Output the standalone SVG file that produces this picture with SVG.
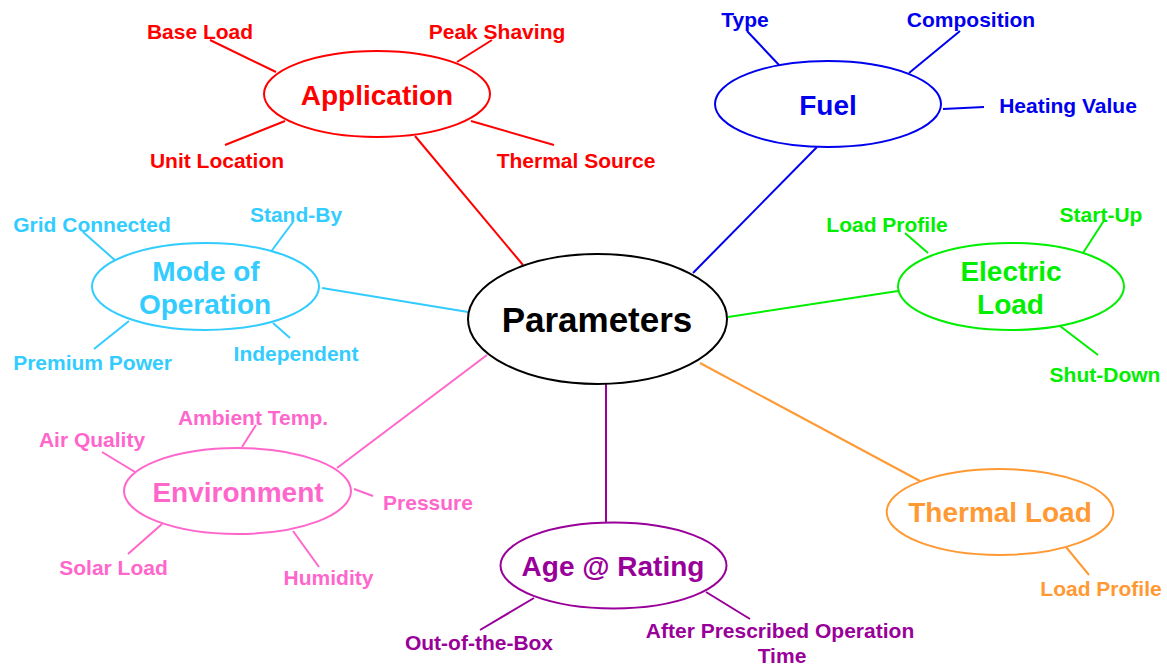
<svg xmlns="http://www.w3.org/2000/svg" width="1167" height="667" viewBox="0 0 1167 667">
  <style>
    text { font-family: "Liberation Sans", Arial, Helvetica, sans-serif; font-weight: bold; text-anchor: middle; }
    .hub { font-size: 35px; fill: #000; }
    .node { font-size: 28px; }
    .leaf { font-size: 21px; }
    ellipse { fill: #fff; stroke-width: 2; }
    line { stroke-width: 2; }
    .red { fill: #ff0000; } .red-s { stroke: #ff0000; }
    .blue { fill: #0000ee; } .blue-s { stroke: #0000ee; }
    .cyan { fill: #33ccff; } .cyan-s { stroke: #33ccff; }
    .green { fill: #00ee00; } .green-s { stroke: #00ee00; }
    .pink { fill: #ff66cc; } .pink-s { stroke: #ff66cc; }
    .purple { fill: #990099; } .purple-s { stroke: #990099; }
    .orange { fill: #ff9933; } .orange-s { stroke: #ff9933; }
  </style>
  <rect width="1167" height="667" fill="#fff"/>

  <!-- spokes from the hub to each category, plus the leaf ticks -->
  <g id="connectors">
    <line class="red-s" x1="415" y1="136" x2="523" y2="265"/>
    <line class="blue-s" x1="817" y1="147" x2="693" y2="273"/>
    <line class="cyan-s" x1="322" y1="288" x2="468" y2="312"/>
    <line class="green-s" x1="728" y1="317" x2="898" y2="291"/>
    <line class="pink-s" x1="337" y1="468" x2="487" y2="355"/>
    <line class="purple-s" x1="606" y1="384" x2="606" y2="522"/>
    <line class="orange-s" x1="700" y1="363" x2="920" y2="481"/>

    <line class="red-s" x1="210" y1="40" x2="276" y2="72"/>
    <line class="red-s" x1="492" y1="40" x2="457" y2="62"/>
    <line class="red-s" x1="285" y1="121" x2="225" y2="145"/>
    <line class="red-s" x1="471" y1="121" x2="554" y2="145"/>

    <line class="blue-s" x1="747" y1="31" x2="779" y2="65"/>
    <line class="blue-s" x1="960" y1="31" x2="909" y2="73"/>
    <line class="blue-s" x1="943" y1="109" x2="984" y2="107"/>

    <line class="cyan-s" x1="83" y1="232" x2="117" y2="262"/>
    <line class="cyan-s" x1="293" y1="222" x2="270" y2="253"/>
    <line class="cyan-s" x1="129" y1="321" x2="94" y2="349"/>
    <line class="cyan-s" x1="273" y1="323" x2="290" y2="338"/>

    <line class="green-s" x1="905" y1="233" x2="928" y2="253"/>
    <line class="green-s" x1="1105" y1="219" x2="1083" y2="253"/>
    <line class="green-s" x1="1060" y1="326" x2="1098" y2="355"/>

    <line class="pink-s" x1="102" y1="452" x2="135" y2="472"/>
    <line class="pink-s" x1="256" y1="425" x2="242" y2="447"/>
    <line class="pink-s" x1="354" y1="489" x2="373" y2="496"/>
    <line class="pink-s" x1="162" y1="524" x2="128" y2="554"/>
    <line class="pink-s" x1="293" y1="531" x2="319" y2="567"/>

    <line class="purple-s" x1="534" y1="598" x2="480" y2="630"/>
    <line class="purple-s" x1="706" y1="592" x2="750" y2="619"/>

    <line class="orange-s" x1="1066" y1="547" x2="1089" y2="575"/>
  </g>

  <g id="parameters">
    <ellipse cx="597.5" cy="319" rx="129.5" ry="65" stroke="#000"/>
    <text class="hub" x="597" y="332">Parameters</text>
  </g>

  <g id="application">
    <ellipse class="red-s" cx="377" cy="94" rx="113" ry="43"/>
    <text class="node red" x="377" y="105">Application</text>
    <text class="leaf red" x="200" y="39">Base Load</text>
    <text class="leaf red" x="497" y="39">Peak Shaving</text>
    <text class="leaf red" x="217" y="168">Unit Location</text>
    <text class="leaf red" x="576" y="168">Thermal Source</text>
  </g>

  <g id="fuel">
    <ellipse class="blue-s" cx="828" cy="104" rx="113" ry="43"/>
    <text class="node blue" x="828" y="115">Fuel</text>
    <text class="leaf blue" x="745" y="27">Type</text>
    <text class="leaf blue" x="971" y="27">Composition</text>
    <text class="leaf blue" x="1068" y="113">Heating Value</text>
  </g>

  <g id="mode-of-operation">
    <ellipse class="cyan-s" cx="205.5" cy="286.5" rx="113.5" ry="43.5"/>
    <text class="node cyan" x="206" y="281">Mode of</text>
    <text class="node cyan" x="205" y="314">Operation</text>
    <text class="leaf cyan" x="92" y="232">Grid Connected</text>
    <text class="leaf cyan" x="296" y="222">Stand-By</text>
    <text class="leaf cyan" x="92.5" y="370">Premium Power</text>
    <text class="leaf cyan" x="296" y="361">Independent</text>
  </g>

  <g id="electric-load">
    <ellipse class="green-s" cx="1011" cy="286.5" rx="113" ry="43.5"/>
    <text class="node green" x="1011" y="281">Electric</text>
    <text class="node green" x="1010.5" y="314">Load</text>
    <text class="leaf green" x="887" y="232">Load Profile</text>
    <text class="leaf green" x="1101" y="222">Start-Up</text>
    <text class="leaf green" x="1105" y="382">Shut-Down</text>
  </g>

  <g id="environment">
    <ellipse class="pink-s" cx="237.5" cy="491" rx="113.5" ry="43"/>
    <text class="node pink" x="238" y="502">Environment</text>
    <text class="leaf pink" x="92" y="447">Air Quality</text>
    <text class="leaf pink" x="253" y="425">Ambient Temp.</text>
    <text class="leaf pink" x="428" y="510">Pressure</text>
    <text class="leaf pink" x="113.5" y="575">Solar Load</text>
    <text class="leaf pink" x="328.5" y="585">Humidity</text>
  </g>

  <g id="age-at-rating">
    <ellipse class="purple-s" cx="613.5" cy="565.5" rx="113" ry="43"/>
    <text class="node purple" x="613" y="576">Age @ Rating</text>
    <text class="leaf purple" x="479" y="650">Out-of-the-Box</text>
    <text class="leaf purple" x="780" y="638">After Prescribed Operation</text>
    <text class="leaf purple" x="782" y="663">Time</text>
  </g>

  <g id="thermal-load">
    <ellipse class="orange-s" cx="1000" cy="512" rx="113.3" ry="43"/>
    <text class="node orange" x="1000" y="522">Thermal Load</text>
    <text class="leaf orange" x="1101" y="596">Load Profile</text>
  </g>
</svg>
